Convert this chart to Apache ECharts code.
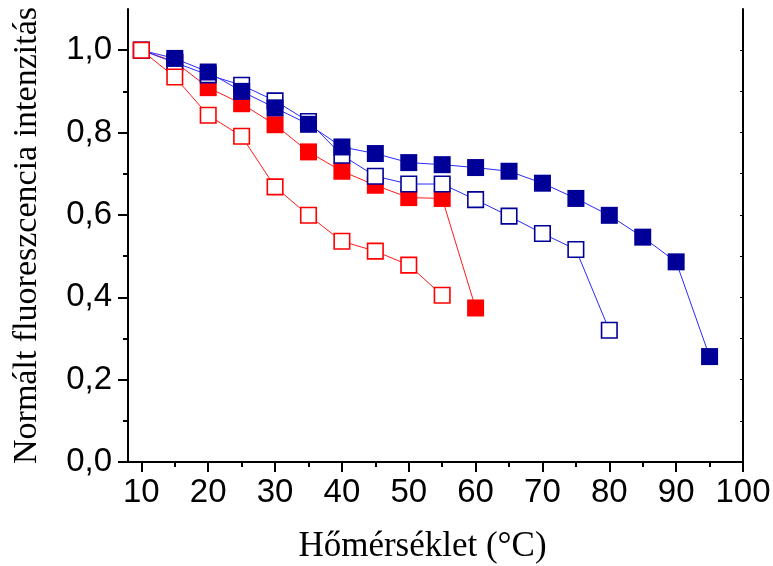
<!DOCTYPE html>
<html>
<head>
<meta charset="utf-8">
<script src="https://cdn.jsdelivr.net/npm/echarts@6/dist/echarts.min.js"></script>
<style>html,body{margin:0;padding:0;background:#fff}#c{width:773px;height:566px}</style>
</head>
<body>
<div id="c"></div>
<script>
// Data
const xOpenRed = [10, 15, 20, 25, 30, 35, 40, 45, 50, 55];
const yOpenRed = [1.0, 0.935, 0.842, 0.791, 0.668, 0.599, 0.536, 0.512, 0.478, 0.405];
const xFilledRed = [10, 15, 20, 25, 30, 35, 40, 45, 50, 55, 60];
const yFilledRed = [1.0, 0.972, 0.909, 0.870, 0.819, 0.753, 0.706, 0.672, 0.642, 0.640, 0.374];
const xOpenBlue = [10, 15, 20, 25, 30, 35, 40, 45, 50, 55, 60, 65, 70, 75, 80];
const yOpenBlue = [1.0, 0.97, 0.94, 0.915, 0.877, 0.827, 0.745, 0.694, 0.675, 0.675, 0.637, 0.597, 0.555, 0.516, 0.320];
const xFilledBlue = [10, 15, 20, 25, 30, 35, 40, 45, 50, 55, 60, 65, 70, 75, 80, 85, 90, 95];
const yFilledBlue = [1.0, 0.98, 0.947, 0.900, 0.860, 0.820, 0.765, 0.749, 0.727, 0.722, 0.715, 0.706, 0.677, 0.640, 0.599, 0.546, 0.486, 0.256];
const xMajorTicks = [10, 20, 30, 40, 50, 60, 70, 80, 90, 100];
const xMinorTicks = [15, 25, 35, 45, 55, 65, 75, 85, 95];
const xTopTicks = [10, 15, 20, 25, 30, 35, 40, 45, 50, 55, 60, 65, 70, 75, 80, 85, 90, 95];
const yMajorTicks = [0, 0.2, 0.4, 0.6, 0.8, 1.0];
const yMinorTicks = [0.1, 0.3, 0.5, 0.7, 0.9];
const yRightTicks = [0.1, 0.2, 0.3, 0.4, 0.5, 0.6, 0.7, 0.8, 0.9, 1.0];
const xTitle = 'Hőmérséklet (°C)';
const yTitle = 'Normált fluoreszcencia intenzitás';

const zip = (xs, ys) => xs.map((x, i) => [x, ys[i]]);
const X_MIN = 8, X_MAX = 100, Y_MIN = 0, Y_MAX = 1.1;
const lineC = { color: '#000', width: 2 };
const labelFont = { fontFamily: 'Liberation Sans', fontSize: 33, color: '#000' };

const chart = echarts.init(document.getElementById('c'), null, { renderer: 'canvas' });
chart.setOption({
  animation: false,
  backgroundColor: '#fff',
  grid: { left: 128, right: 30, top: 9, bottom: 104, containLabel: false, outerBoundsMode: 'none' },
  xAxis: [
    {
      type: 'value', position: 'bottom', min: X_MIN, max: X_MAX,
      axisLine: { show: true, lineStyle: lineC },
      axisTick: { show: true, inside: false, length: 10, lineStyle: { color: '#000', width: 2 }, customValues: xMajorTicks },
      axisLabel: { show: true, margin: 14, customValues: xMajorTicks, formatter: v => String(v), ...labelFont },
      splitLine: { show: false },
      name: xTitle, nameLocation: 'middle', nameGap: 67,
      nameTextStyle: { fontFamily: 'Liberation Serif', fontSize: 35, color: '#000', padding: [0, 26, 0, 0] }
    },
    {
      type: 'value', position: 'bottom', min: X_MIN, max: X_MAX,
      axisLine: { show: false },
      axisTick: { show: true, inside: false, length: 5, lineStyle: { color: '#000', width: 2 }, customValues: xMinorTicks },
      axisLabel: { show: false }, splitLine: { show: false }
    },
    {
      type: 'value', position: 'top', min: X_MIN, max: X_MAX,
      axisLine: { show: true, lineStyle: lineC },
      axisTick: { show: true, inside: true, length: 3, lineStyle: { color: '#000', width: 1 }, customValues: xTopTicks },
      axisLabel: { show: false }, splitLine: { show: false }
    }
  ],
  yAxis: [
    {
      type: 'value', position: 'left', min: Y_MIN, max: Y_MAX,
      axisLine: { show: true, lineStyle: lineC },
      axisTick: { show: true, inside: false, length: 10, lineStyle: { color: '#000', width: 2 }, customValues: yMajorTicks },
      axisLabel: { show: true, margin: 16, customValues: yMajorTicks, formatter: v => v.toFixed(1).replace('.', ','), ...labelFont },
      splitLine: { show: false },
      name: yTitle, nameLocation: 'middle', nameGap: 84,
      nameTextStyle: { fontFamily: 'Liberation Serif', fontSize: 34, color: '#000' }
    },
    {
      type: 'value', position: 'left', min: Y_MIN, max: Y_MAX,
      axisLine: { show: false },
      axisTick: { show: true, inside: false, length: 5, lineStyle: { color: '#000', width: 2 }, customValues: yMinorTicks },
      axisLabel: { show: false }, splitLine: { show: false }
    },
    {
      type: 'value', position: 'right', min: Y_MIN, max: Y_MAX,
      axisLine: { show: true, lineStyle: lineC },
      axisTick: { show: true, inside: true, length: 3, lineStyle: { color: '#000', width: 1 }, customValues: yRightTicks },
      axisLabel: { show: false }, splitLine: { show: false }
    }
  ],
  series: [
    {
      type: 'line', name: 'filledRed', data: zip(xFilledRed, yFilledRed),
      symbol: 'rect', symbolSize: 17, showAllSymbol: true,
      itemStyle: { color: '#ff0000', borderWidth: 0 },
      lineStyle: { color: '#ff1a1a', width: 1 }
    },
    {
      type: 'line', name: 'openBlue', data: zip(xOpenBlue, yOpenBlue),
      symbol: 'rect', symbolSize: 15.5, showAllSymbol: true,
      itemStyle: { color: '#ffffff', borderColor: '#000099', borderWidth: 1.6 },
      lineStyle: { color: '#2a2aff', width: 1 }
    },
    {
      type: 'line', name: 'filledBlue', data: zip(xFilledBlue, yFilledBlue),
      symbol: 'rect', symbolSize: 17, showAllSymbol: true,
      itemStyle: { color: '#000099', borderWidth: 0 },
      lineStyle: { color: '#2a2aff', width: 1 }
    },
    {
      type: 'line', name: 'openRed', data: zip(xOpenRed, yOpenRed),
      symbol: 'rect', symbolSize: 15.5, showAllSymbol: true,
      itemStyle: { color: '#ffffff', borderColor: '#ff0000', borderWidth: 1.6 },
      lineStyle: { color: '#ff1a1a', width: 1 }
    }
  ]
});
</script>
</body>
</html>
